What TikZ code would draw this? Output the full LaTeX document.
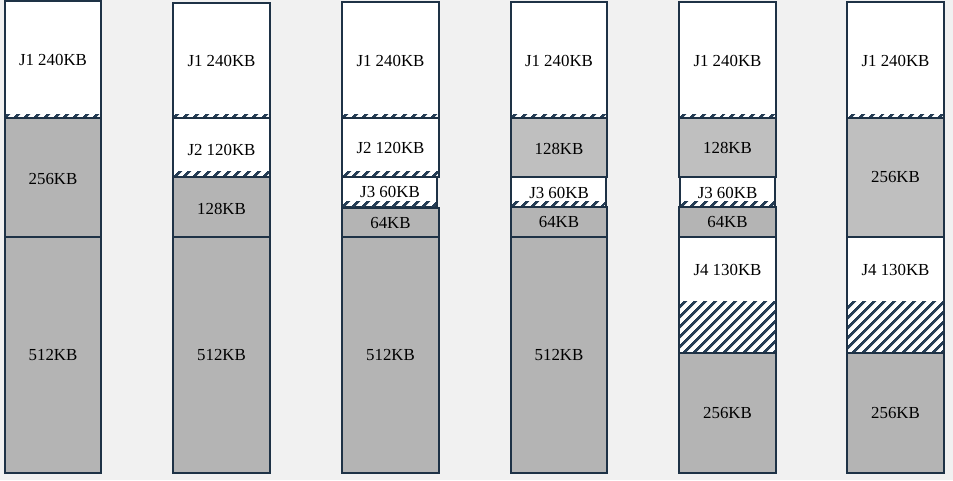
\documentclass[tikz,border=0pt]{standalone}
\usepackage{fontspec}
\setmainfont{Liberation Serif}
\usepackage{tikz}
\usetikzlibrary{patterns.meta}
\definecolor{edge}{RGB}{30,50,70}
\definecolor{stripe}{RGB}{38,62,86}
\definecolor{bg}{RGB}{241,241,241}
\definecolor{holegray}{RGB}{180,180,180}
\definecolor{freegray}{RGB}{191,191,191}
\tikzset{
    % 作业块
    job/.style={
        draw=edge,
        fill=white,
        line width=1.1pt
    },
    % 空闲块
    hole/.style={
        draw=edge,
        fill=holegray,
        line width=1.1pt
    },
    freed/.style={
        draw=edge,
        fill=freegray,
        line width=1.1pt
    },
    % 内部碎片
    frag/.style={
        pattern={Lines[angle=45,distance=4pt,line width=1.6pt]},
        pattern color=stripe
    },
    lbl/.style={
        font=\fontsize{9.6}{11}\selectfont,
        inner sep=0pt
    }
}

\begin{document}
\begin{tikzpicture}[x=0.02cm,y=-0.02cm]
  \fill[bg] (0,0) rectangle (953,480);
  \useasboundingbox (0,0) rectangle (953,480);

  % 第1列
  \draw[job] (5,1) rectangle (101,118);
  \fill[frag] (6,114) rectangle (100,118);
  \draw[hole] (5,118) rectangle (101,237);
  \draw[hole] (5,237) rectangle (101,473);
  \node[lbl] (a1) at (53,60) {J1 240KB};
  \node[lbl] (a2) at (53,179) {256KB};
  \node[lbl] (a3) at (53,355) {512KB};

  % 第2列
  \draw[job] (173,3) rectangle (270,118);
  \fill[frag] (174,114) rectangle (269,118);
  \draw[job] (173,118) rectangle (270,177);
  \fill[frag] (174,171) rectangle (269,177);
  \draw[hole] (173,177) rectangle (270,237);
  \draw[hole] (173,237) rectangle (270,473);
  \node[lbl] (b1) at (221.5,61) {J1 240KB};
  \node[lbl] (b2) at (221.5,150) {J2 120KB};
  \node[lbl] (b3) at (221.5,209) {128KB};
  \node[lbl] (b4) at (221.5,355) {512KB};

  % 第3列
  \draw[job] (342,2) rectangle (439,118);
  \fill[frag] (343,114) rectangle (438,118);
  \draw[job] (342,118) rectangle (439,177);
  \fill[frag] (343,171) rectangle (438,176);
  \draw[job] (342,177) rectangle (437,207);
  \fill[frag] (343,201) rectangle (436,206);
  \draw[hole] (342,208) rectangle (439,237);
  \draw[hole] (342,237) rectangle (439,473);
  \node[lbl] (c1) at (390.5,61) {J1 240KB};
  \node[lbl] (c2) at (390.5,148) {J2 120KB};
  \node[lbl] (c3) at (390,192) {J3 60KB};
  \node[lbl] (c4) at (390.5,223) {64KB};
  \node[lbl] (c5) at (390.5,355) {512KB};

  % 第4列
  \draw[job] (511,2) rectangle (607,118);
  \fill[frag] (512,114) rectangle (606,118);
  \draw[freed] (511,118) rectangle (607,177);
  \draw[job] (511,177) rectangle (606,207);
  \fill[frag] (512,201) rectangle (605,206);
  \draw[hole] (511,207) rectangle (607,237);
  \draw[hole] (511,237) rectangle (607,473);
  \node[lbl] (d1) at (559,61) {J1 240KB};
  \node[lbl] (d2) at (559,149) {128KB};
  \node[lbl] (d3) at (559,193) {J3 60KB};
  \node[lbl] (d4) at (559,222) {64KB};
  \node[lbl] (d5) at (559,355) {512KB};

  % 第5列
  \draw[job] (679,2) rectangle (776,118);
  \fill[frag] (680,114) rectangle (775,118);
  \draw[freed] (679,118) rectangle (776,177);
  \draw[job] (680,177) rectangle (775,207);
  \fill[frag] (681,201) rectangle (774,206);
  \draw[hole] (679,207) rectangle (776,237);
  \draw[job] (679,237) rectangle (776,353);
  \fill[frag] (680,301) rectangle (775,353);
  \draw[hole] (679,353) rectangle (776,473);
  \node[lbl] (e1) at (727.5,61) {J1 240KB};
  \node[lbl] (e2) at (727.5,148) {128KB};
  \node[lbl] (e3) at (727.5,193) {J3 60KB};
  \node[lbl] (e4) at (727.5,222) {64KB};
  \node[lbl] (e5) at (727.5,270) {J4 130KB};
  \node[lbl] (e6) at (727.5,413) {256KB};

  % 第6列
  \draw[job] (847,2) rectangle (944,118);
  \fill[frag] (848,114) rectangle (943,118);
  \draw[freed] (847,118) rectangle (944,237);
  \draw[job] (847,237) rectangle (944,353);
  \fill[frag] (848,301) rectangle (943,353);
  \draw[hole] (847,353) rectangle (944,473);
  \node[lbl] (f1) at (895.5,61) {J1 240KB};
  \node[lbl] (f2) at (895.5,177) {256KB};
  \node[lbl] (f3) at (895.5,270) {J4 130KB};
  \node[lbl] (f4) at (895.5,413) {256KB};
\end{tikzpicture}
\end{document}
